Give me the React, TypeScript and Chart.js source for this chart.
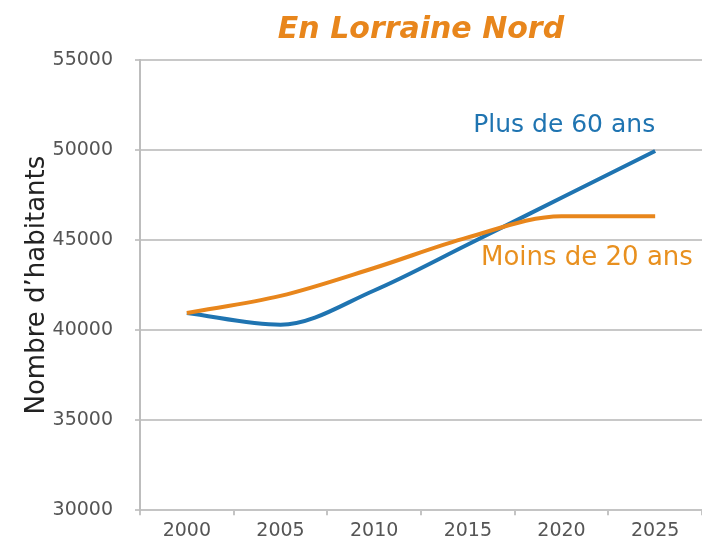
import React, { useEffect, useRef } from "react";
import { Chart, registerables } from "chart.js";

Chart.register(...registerables);

const years = ["2000", "2005", "2010", "2015", "2020", "2025"];
const plus60 = [40950, 40300, 42200, 44750, 47350, 49950];
const moins20 = [40950, 41900, 43450, 45150, 46330, 46330];
const titleText = "En Lorraine Nord";
const yTitle = "Nombre d\u2019habitants";
const labelPlus60 = "Plus de 60 ans";
const labelMoins20 = "Moins de 20 ans";

const BLUE = "#1f74b1";
const ORANGE = "#e8861c";
const FONT = "'DejaVu Sans', sans-serif";

const seriesLabels = {
  id: "seriesLabels",
  afterDatasetsDraw(chart: any) {
    const { ctx, scales } = chart;
    const x = scales.x;
    const y = scales.y;
    ctx.save();
    ctx.textBaseline = "middle";
    ctx.font = `25px ${FONT}`;
    ctx.fillStyle = BLUE;
    ctx.textAlign = "right";
    ctx.fillText(labelPlus60, x.getPixelForValue(5), y.getPixelForValue(51350));
    ctx.font = `26px ${FONT}`;
    ctx.fillStyle = "#e8901f";
    ctx.textAlign = "left";
    ctx.fillText(labelMoins20, x.getPixelForValue(3.14), y.getPixelForValue(44000));
    ctx.restore();
  },
};

export default function App() {
  const ref = useRef<HTMLCanvasElement | null>(null);
  useEffect(() => {
    document.body.style.margin = "0";
    const chart = new Chart(ref.current as HTMLCanvasElement, {
      type: "line",
      data: {
        labels: years,
        datasets: [
          {
            label: labelMoins20,
            data: moins20,
            borderColor: ORANGE,
            borderWidth: 4,
            pointRadius: 0,
            cubicInterpolationMode: "monotone",
          },
          {
            label: labelPlus60,
            data: plus60,
            borderColor: BLUE,
            borderWidth: 4,
            pointRadius: 0,
            cubicInterpolationMode: "monotone",
          },
        ],
      },
      options: {
        animation: false,
        responsive: false,
        layout: { padding: { left: 22, right: 0, top: 0, bottom: 0 } },
        plugins: {
          legend: { display: false },
          tooltip: { enabled: false },
          title: {
            display: true,
            text: titleText,
            color: ORANGE,
            fullSize: false,
            font: { family: FONT, size: 30, style: "italic", weight: "bold" },
            padding: { top: 12, bottom: 12 },
          },
        },
        scales: {
          x: {
            offset: true,
            grid: {
              display: true,
              drawOnChartArea: false,
              offset: true,
              tickLength: 5,
              color: "#c4c4c4",
              lineWidth: 2,
            },
            border: { display: true, color: "#c4c4c4", width: 2 },
            ticks: { color: "#555", font: { family: FONT, size: 19 }, padding: 4 },
          },
          y: {
            min: 30000,
            max: 55000,
            afterFit: (scale: any) => {
              scale.width = 118;
            },
            ticks: {
              stepSize: 5000,
              color: "#555",
              font: { family: FONT, size: 19 },
              padding: 22,
              callback: (v: any) => String(v),
            },
            grid: { color: "#c8c8c8", lineWidth: 2, tickLength: 5 },
            border: { display: true, color: "#bdbdbd", width: 2 },
            title: {
              display: true,
              text: yTitle,
              color: "#222",
              font: { family: FONT, size: 26 },
              padding: { top: 0, bottom: 0 },
            },
          },
        },
      },
      plugins: [seriesLabels],
    } as any);
    return () => chart.destroy();
  }, []);
  return (
    <div style={{ width: 702, height: 546 }}>
      <canvas ref={ref} width={702} height={546} style={{ display: "block" }} />
    </div>
  );
}
